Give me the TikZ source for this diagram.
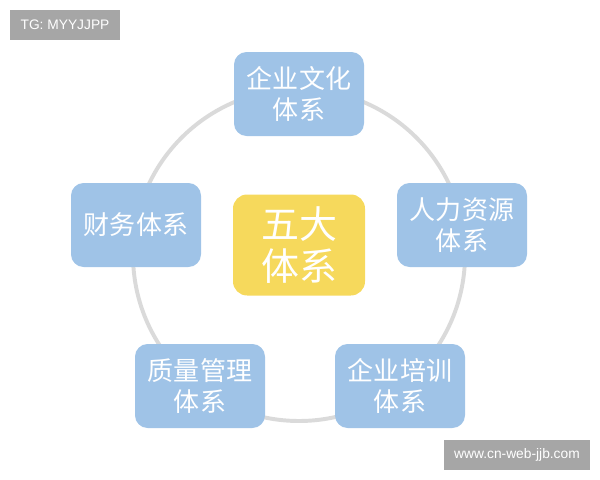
\documentclass[tikz,border=0pt]{standalone}
\usepackage{fontspec}
\usepackage{tikz}
\usepackage{xcolor}
\usetikzlibrary{positioning, calc, backgrounds}
\setmainfont{Liberation Sans}
\newfontfamily\cjk{Noto Sans CJK SC}
\definecolor{SoftBlue}{HTML}{9FC3E7}
\definecolor{SunYellow}{HTML}{F6D95C}
\definecolor{RingGray}{HTML}{DADADA}
\definecolor{TagGray}{HTML}{A6A6A6}

\tikzset{
    part/.style={rectangle, rounded corners=9pt, fill=SoftBlue, text=white,
                 minimum width=130*0.025cm, minimum height=84*0.025cm,
                 align=center, inner sep=0pt, font=\cjk\fontsize{18.5}{22}\selectfont},
    core/.style={rectangle, rounded corners=10pt, fill=SunYellow, text=white,
                 minimum width=132*0.025cm, minimum height=101*0.025cm,
                 align=center, inner sep=0pt, font=\cjk\fontsize{27}{30}\selectfont},
    tag/.style={rectangle, fill=TagGray, text=white, inner sep=0pt,
                font=\fontsize{9.8}{11}\selectfont}
}

\begin{document}
\begin{tikzpicture}[x=0.025cm, y=-0.025cm]
    \useasboundingbox (0,0) rectangle (600,480);

    % ring behind the five boxes
    \coordinate (hub) at (299,255);
    \draw[RingGray, line width=2.8pt] (hub) circle[radius=166*0.025cm];

    % centre
    \node[core] (five) at (299,245) {五大\\体系};

    % five parts round the ring
    \node[part] (culture) at (299,94)  {企业文化\\体系};
    \node[part] (human)   at (462,225) {人力资源\\体系};
    \node[part] (finance) at (136,225) {财务体系};
    \node[part] (quality) at (200,386) {质量管理\\体系};
    \node[part] (train)   at (400,386) {企业培训\\体系};

    % tags
    \node[tag, minimum width=110*0.025cm, minimum height=30*0.025cm] (tg) at (65,25) {TG: MYYJJPP};
    \node[tag, minimum width=146*0.025cm, minimum height=30*0.025cm] (web) at (517,455) {www.cn-web-jjb.com};
\end{tikzpicture}
\end{document}
